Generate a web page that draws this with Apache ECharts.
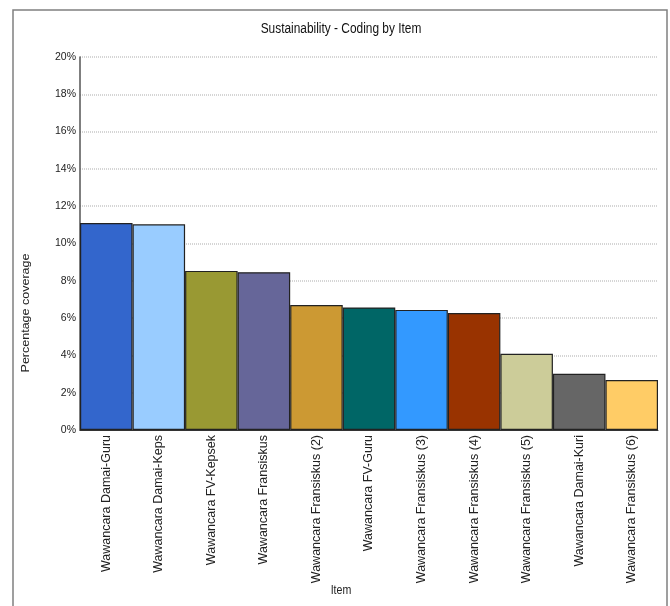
<!DOCTYPE html>
<html><head><meta charset="utf-8">
<script src="https://cdn.jsdelivr.net/npm/echarts@6/dist/echarts.min.js"></script>
<style>html,body{margin:0;padding:0;background:#fff}#c{width:670px;height:606px}</style>
</head><body><div id="c"></div>
<script>
const categories = ["Wawancara Damai-Guru","Wawancara Damai-Keps","Wawancara FV-Kepsek","Wawancara Fransiskus","Wawancara Fransiskus (2)","Wawancara FV-Guru","Wawancara Fransiskus (3)","Wawancara Fransiskus (4)","Wawancara Fransiskus (5)","Wawancara Damai-Kuri","Wawancara Fransiskus (6)"];
const coverage = [11.10, 11.03, 8.53, 8.46, 6.70, 6.57, 6.44, 6.27, 4.09, 3.02, 2.68];
const barColors = ["#3366CC","#99CCFF","#999933","#666699","#CC9933","#006666","#3399FF","#993300","#CCCC99","#666666","#FFCC66"];
const yTicks = [0,2,4,6,8,10,12,14,16,18,20];
const chartTitle = 'Sustainability - Coding by Item';
const yName = 'Percentage coverage';
const xName = 'Item';

const FONT = 'Liberation Sans, Arial, sans-serif';
const chart = echarts.init(document.getElementById('c'), null, {renderer:'canvas'});
chart.setOption({
  animation:false,
  grid:{left:80,right:12,top:57,bottom:176,containLabel:false},
  xAxis:{type:'category',data:categories,
    axisLine:{lineStyle:{color:'#333',width:1}},
    axisTick:{show:false},
    axisLabel:{rotate:90,margin:5,interval:0,fontFamily:FONT,fontSize:12.5,color:'#222'}},
  yAxis:{type:'value',min:yTicks[0],max:yTicks[yTicks.length-1],interval:2,
    axisLine:{show:true,lineStyle:{color:'#555',width:1.5}},
    axisTick:{show:false},
    axisLabel:{formatter:'{value}%',margin:4,fontFamily:FONT,fontSize:10.5,color:'#222'},
    splitLine:{lineStyle:{color:'#c8c8c8',type:[1,1],width:1.5}}},
  series:[{type:'bar',barCategoryGap:0,
    data:coverage.map((v,i)=>({value:v,itemStyle:{color:barColors[i]}})),
    itemStyle:{borderColor:'#222',borderWidth:1.2}}],
  graphic:[
    {type:'rect',shape:{x:13,y:10,width:654,height:620},style:{fill:'none',stroke:'#808080',lineWidth:1.5},silent:true},
    {type:'text',x:341,y:29,scaleX:0.85,style:{text:chartTitle,fontFamily:FONT,fontSize:14,fill:'#111',align:'center',verticalAlign:'middle'}},
    {type:'text',x:26,y:313,rotation:Math.PI/2,scaleY:0.85,style:{text:yName,fontFamily:FONT,fontSize:12.5,fill:'#222',align:'center',verticalAlign:'middle'}},
    {type:'text',x:341,y:591,scaleX:0.85,style:{text:xName,fontFamily:FONT,fontSize:12.5,fill:'#222',align:'center',verticalAlign:'middle'}}
  ]
});
</script></body></html>
